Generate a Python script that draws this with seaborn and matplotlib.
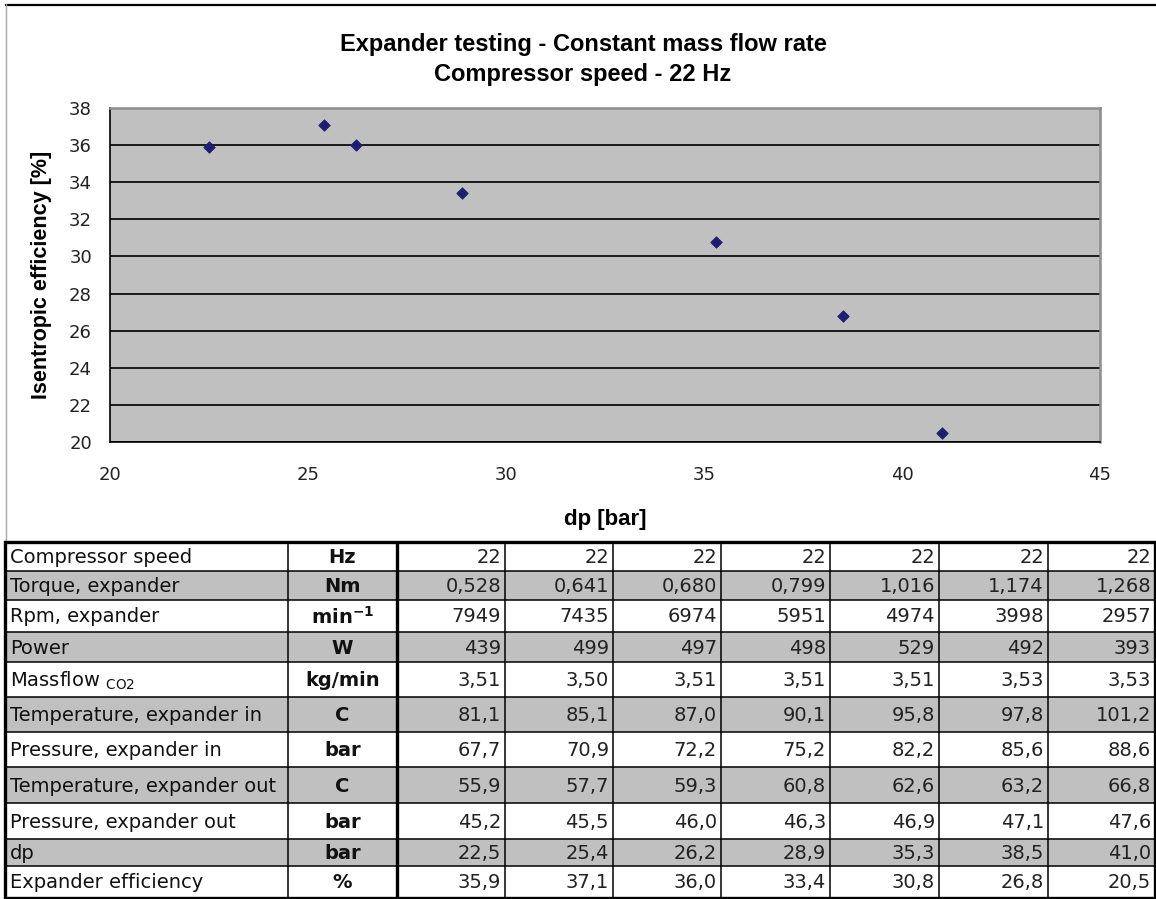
import matplotlib
matplotlib.use("Agg")
import matplotlib.pyplot as plt
import numpy as np
import pandas as pd
import seaborn as sns

# ---- chart texts ----
title_lines = ["Expander testing - Constant mass flow rate", "Compressor speed - 22 Hz"]
x_label = "dp [bar]"
y_label = "Isentropic efficiency [%]"
x_ticks = [20, 25, 30, 35, 40, 45]
y_ticks = [20, 22, 24, 26, 28, 30, 32, 34, 36, 38]

# ---- measurement table ----
row_labels = [
    "Compressor speed",
    "Torque, expander",
    "Rpm, expander",
    "Power",
    r"Massflow $_{\mathregular{CO2}}$",
    "Temperature, expander in",
    "Pressure, expander in",
    "Temperature, expander out",
    "Pressure, expander out",
    "dp",
    "Expander efficiency",
]
row_units = ["Hz", "Nm", r"min$^{\mathbf{-1}}$", "W", "kg/min", "C", "bar", "C", "bar", "bar", "%"]

compressor_speed = [22, 22, 22, 22, 22, 22, 22]
torque = [0.528, 0.641, 0.680, 0.799, 1.016, 1.174, 1.268]
rpm = [7949, 7435, 6974, 5951, 4974, 3998, 2957]
power = [439, 499, 497, 498, 529, 492, 393]
massflow = [3.51, 3.50, 3.51, 3.51, 3.51, 3.53, 3.53]
temp_in = [81.1, 85.1, 87.0, 90.1, 95.8, 97.8, 101.2]
pressure_in = [67.7, 70.9, 72.2, 75.2, 82.2, 85.6, 88.6]
temp_out = [55.9, 57.7, 59.3, 60.8, 62.6, 63.2, 66.8]
pressure_out = [45.2, 45.5, 46.0, 46.3, 46.9, 47.1, 47.6]
dp = [22.5, 25.4, 26.2, 28.9, 35.3, 38.5, 41.0]
efficiency = [35.9, 37.1, 36.0, 33.4, 30.8, 26.8, 20.5]

table_rows = [compressor_speed, torque, rpm, power, massflow, temp_in,
              pressure_in, temp_out, pressure_out, dp, efficiency]
row_decimals = [0, 3, 0, 0, 2, 1, 1, 1, 1, 1, 1]

# ---- style ----
sns.set_theme(style="white", rc={"text.color": "black", "axes.labelcolor": "black"})
FONT = "Liberation Sans"
plt.rcParams["font.family"] = [FONT, "DejaVu Sans"]
plt.rcParams["mathtext.fontset"] = "custom"
plt.rcParams["mathtext.rm"] = "DejaVu Sans"
plt.rcParams["mathtext.bf"] = "DejaVu Sans:bold"
plt.rcParams["mathtext.default"] = "regular"

TABLE_FONT = ["DejaVu Sans"]
GRAY = "#C0C0C0"
W, H = 1156, 899
fig = plt.figure(figsize=(W / 100, H / 100), dpi=100)
fig.patch.set_facecolor("white")


def fig_rect(x0, y0, x1, y1):
    """Pixel box (top-left origin) -> figure fraction rect."""
    return [x0 / W, 1 - y1 / H, (x1 - x0) / W, (y1 - y0) / H]


# ---- background layer for frame and table (pixel coordinates) ----
bg = fig.add_axes([0, 0, 1, 1], zorder=0)
bg.set_xlim(0, W)
bg.set_ylim(H, 0)
bg.axis("off")

# chart frame
bg.plot([5, W], [4.5, 4.5], color="black", lw=1.6, solid_capstyle="butt")
bg.plot([6, 6], [4, 541], color="#A8A8A8", lw=1.0)

# ---- scatter chart ----
ax = fig.add_axes(fig_rect(110, 108, 1100, 442), zorder=2)
ax.set_facecolor(GRAY)
df = pd.DataFrame({"dp": dp, "efficiency": efficiency})
sns.scatterplot(data=df, x="dp", y="efficiency", ax=ax, marker="D", s=34,
                color="#1E1E70", edgecolor="#1E1E70", linewidth=0.6, zorder=3)
ax.set_xlim(20, 45)
ax.set_ylim(20, 38)
ax.set_xticks(x_ticks)
ax.set_yticks(y_ticks)
ax.set_axisbelow(True)
ax.yaxis.grid(True, color="#1A1A1A", lw=1.4)
ax.xaxis.grid(False)
for side in ("left", "bottom"):
    ax.spines[side].set_color("black")
    ax.spines[side].set_linewidth(1.2)
for side in ("top", "right"):
    ax.spines[side].set_color("#8C8C8C")
    ax.spines[side].set_linewidth(1.8)
ax.tick_params(axis="both", direction="out", length=5, width=1.2, color="black",
               labelsize=13, labelcolor="#222222")
ax.tick_params(axis="x", pad=12)
ax.tick_params(axis="y", pad=8)
for lbl in ax.get_xticklabels() + ax.get_yticklabels():
    lbl.set_fontfamily(TABLE_FONT)
ax.set_xlabel(x_label, fontsize=16, fontweight="bold", labelpad=18)
ax.set_ylabel(y_label, fontsize=15.5, fontweight="bold", labelpad=12)
fig.text(583 / W, 1 - 45 / H, title_lines[0], ha="center", va="center",
         fontsize=17, fontweight="bold", color="black")
fig.text(583 / W, 1 - 75 / H, title_lines[1], ha="center", va="center",
         fontsize=17, fontweight="bold", color="black")

# ---- data table ----
col_x = [5, 288, 397, 505, 613, 721, 830, 939, 1048, 1155]
row_y = [542, 571, 600, 632, 662, 697, 732, 767, 803, 839, 866, 898]

for i in range(len(row_labels)):
    if i % 2 == 1:
        bg.add_patch(plt.Rectangle((col_x[0], row_y[i]), col_x[-1] - col_x[0],
                                   row_y[i + 1] - row_y[i], facecolor=GRAY,
                                   edgecolor="none", zorder=1))

for y in row_y[1:-1]:
    bg.plot([col_x[0], col_x[-1]], [y, y], color="black", lw=1.1, zorder=2)
for x in col_x[1:-1]:
    lw = 2.4 if x == 397 else 1.1
    bg.plot([x, x], [row_y[0], row_y[-1]], color="black", lw=lw, zorder=2)
bg.add_patch(plt.Rectangle((col_x[0], row_y[0]), col_x[-1] - col_x[0],
                           row_y[-1] - row_y[0], facecolor="none",
                           edgecolor="black", lw=2.4, zorder=3))

TFS = 14
for i, (label, unit, values, dec) in enumerate(zip(row_labels, row_units,
                                                   table_rows, row_decimals)):
    yc = (row_y[i] + row_y[i + 1]) / 2 + 1
    bg.text(col_x[0] + 5, yc, label, ha="left", va="center", fontsize=TFS,
            family=TABLE_FONT, color="#111111", zorder=4)
    bg.text((col_x[1] + col_x[2]) / 2, yc, unit, ha="center", va="center",
            fontsize=TFS, fontweight="bold", family=TABLE_FONT,
            color="#111111", zorder=4)
    for j, v in enumerate(values):
        txt = f"{v:.{dec}f}".replace(".", ",")
        bg.text(col_x[3 + j] - 4, yc, txt, ha="right", va="center",
                fontsize=TFS, family=TABLE_FONT, color="#222222", zorder=4)

fig.savefig("out.png", dpi=100, facecolor="white")
